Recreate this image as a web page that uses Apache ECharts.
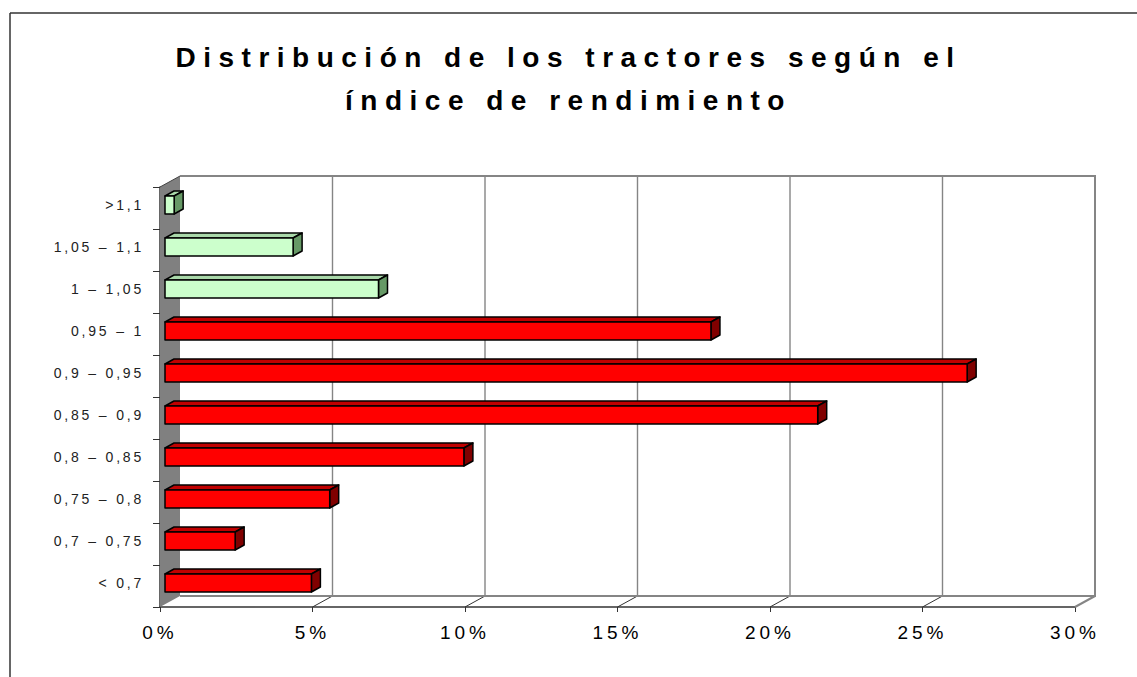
<!DOCTYPE html>
<html>
<head>
<meta charset="utf-8">
<script src="https://cdn.jsdelivr.net/npm/echarts@6/dist/echarts.min.js"></script>
<style>
html, body { margin: 0; padding: 0; background: #fff; }
.main { width: 1137px; height: 677px; }
/* Excel-style wide letter spacing (svg renderer) */
.main text[style*="28px"] { letter-spacing: 7.5px; }
.main text[style*="19px"] { letter-spacing: 4px; }
.main text[style*="14px"] { letter-spacing: 2.8px; }
</style>
</head>
<body>
<div class="main"></div>
<script>
var categories = ['< 0,7', '0,7 – 0,75', '0,75 – 0,8', '0,8 – 0,85', '0,85 – 0,9',
    '0,9 – 0,95', '0,95 – 1', '1 – 1,05', '1,05 – 1,1', '>1,1'];
var shares = [4.8, 2.3, 5.4, 9.8, 21.4, 26.3, 17.9, 7.0, 4.2, 0.3];
var xTicks = [0, 5, 10, 15, 20, 25, 30];

// depth of the 3d box
var DX = 20, DY = -11;

var myChart = echarts.init(document.querySelector('.main'), null, {renderer: 'svg'});

function line(x1, y1, x2, y2, color, w) {
    return {
        type: 'line',
        shape: {x1: x1, y1: y1, x2: x2, y2: y2},
        style: {stroke: color, lineWidth: w}
    };
}

function renderFrame(params, api) {
    var cs = params.coordSys;
    var left = cs.x, top = cs.y, right = cs.x + cs.width, bottom = cs.y + cs.height;
    var grey = '#858585';
    var kids = [];
    // side wall
    kids.push({
        type: 'polygon',
        shape: {points: [[left, top], [left + DX, top + DY], [left + DX, bottom + DY], [left, bottom]]},
        style: {fill: '#808080'}
    });
    xTicks.forEach(function (t) {
        var x = api.coord([t, 0])[0];
        if (t > 0 && t < 30) {
            kids.push(line(x + DX, top + DY, x + DX, bottom + DY, grey, 1.4));
            kids.push(line(x, bottom, x + DX, bottom + DY, '#333', 1));
        }
    });
    kids.push({
        type: 'polyline',
        shape: {points: [[left + DX, top + DY], [right + DX, top + DY], [right + DX, bottom + DY], [left + DX, bottom + DY]]},
        style: {stroke: grey, lineWidth: 2, fill: null}
    });
    kids.push(line(right, bottom, right + DX, bottom + DY, grey, 2));
    kids.push(line(left, top, left + DX, top + DY, '#444', 1));
    return {type: 'group', children: kids};
}

function renderBar(params, api) {
    var idx = api.value(1);
    var p0 = api.coord([0, idx]);
    var p1 = api.coord([api.value(0), idx]);
    var h = api.size([0, 1])[1] * 0.43;
    var x0 = p0[0] + 5, x1 = p1[0] + 5;
    var yt = p0[1] - 3 - h / 2, yb = yt + h;
    var dx = 9, dy = -5;
    // categories above 1 are drawn in green
    var c = idx >= 7
        ? {front: '#ccffcc', top: '#a9d8a9', side: '#669966'}
        : {front: '#ff0000', top: '#c00000', side: '#800000'};
    var edge = {stroke: '#000', lineWidth: 1.5, lineJoin: 'round'};
    return {
        type: 'group',
        children: [{
            type: 'polygon',
            shape: {points: [[x0, yt], [x1, yt], [x1 + dx, yt + dy], [x0 + dx, yt + dy]]},
            style: Object.assign({fill: c.top}, edge)
        }, {
            type: 'polygon',
            shape: {points: [[x1, yt], [x1 + dx, yt + dy], [x1 + dx, yb + dy], [x1, yb]]},
            style: Object.assign({fill: c.side}, edge)
        }, {
            type: 'rect',
            shape: {x: x0, y: yt, width: x1 - x0, height: h},
            style: Object.assign({fill: c.front}, edge)
        }]
    };
}

option = {
    backgroundColor: '#fff',
    animation: false,
    title: {
        text: 'Distribución de los tractores según el\níndice de rendimiento',
        left: 'center',
        top: 31,
        textStyle: {
            fontFamily: 'Liberation Sans',
            fontSize: 28,
            fontWeight: 'bold',
            lineHeight: 43,
            color: '#000'
        }
    },
    graphic: [
        {type: 'line', shape: {x1: 10, y1: 13, x2: 1137, y2: 13}, style: {stroke: '#333', lineWidth: 1.5}},
        {type: 'line', shape: {x1: 10, y1: 13, x2: 10, y2: 677}, style: {stroke: '#333', lineWidth: 1.5}}
    ],
    grid: {left: 160, right: 62, top: 187, bottom: 70},
    xAxis: {
        type: 'value',
        min: 0,
        max: 30,
        interval: 5,
        splitLine: {show: false},
        axisLine: {show: true, lineStyle: {color: '#333', width: 1.5}},
        axisTick: {show: true, length: 5, lineStyle: {color: '#333'}},
        axisLabel: {
            formatter: '{value}%',
            margin: 16,
            fontFamily: 'Liberation Sans',
            fontSize: 19,
            color: '#000'
        }
    },
    yAxis: {
        type: 'category',
        data: categories,
        axisLine: {show: true, lineStyle: {color: '#333', width: 1.5}},
        axisTick: {show: true, length: 7, lineStyle: {color: '#333'}},
        axisLabel: {
            margin: 16,
            formatter: '{a|{value}}',
            rich: {
                a: {
                    fontFamily: 'Liberation Sans',
                    fontSize: 14,
                    color: '#222',
                    padding: [0, 0, 7, 0]
                }
            }
        }
    },
    series: [{
        name: 'frame',
        type: 'custom',
        renderItem: renderFrame,
        data: [[0, 0]],
        encode: {x: 0, y: 1},
        silent: true,
        z: 1
    }, {
        name: 'tractores',
        type: 'custom',
        renderItem: renderBar,
        data: shares.map(function (v, i) { return [v, i]; }),
        encode: {x: 0, y: 1},
        z: 3
    }]
};

myChart.setOption(option);
</script>
</body>
</html>
